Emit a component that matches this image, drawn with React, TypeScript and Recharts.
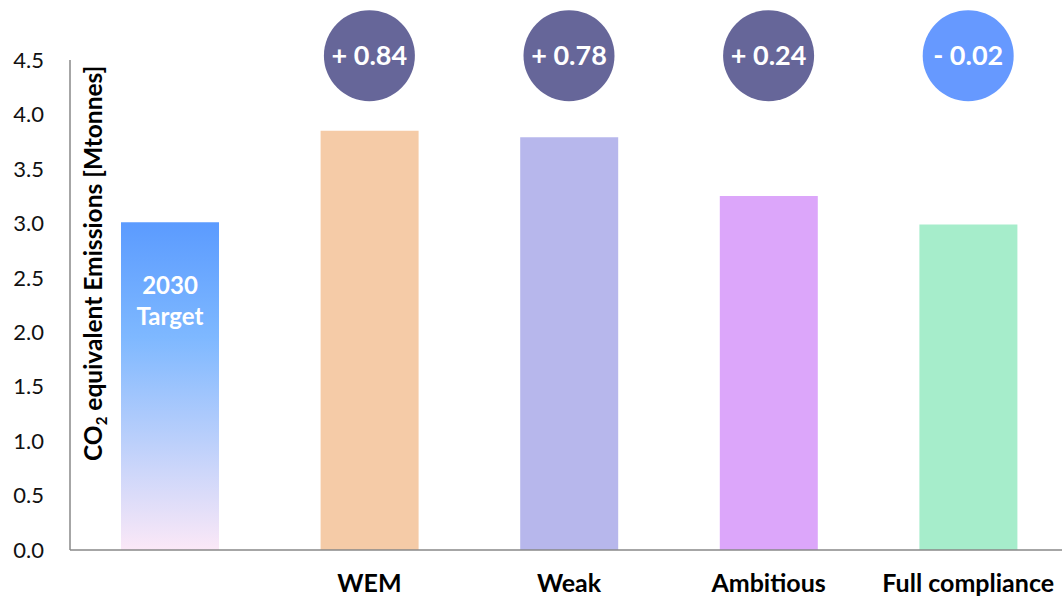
import React from 'react';
import {
  BarChart,
  Bar,
  Cell,
  XAxis,
  YAxis,
  ReferenceDot,
  Label,
  LabelList,
} from 'recharts';

// Scenarios and emissions (Mt CO2-eq)
const scenarios = ['2030 Target', 'WEM', 'Weak', 'Ambitious', 'Full compliance'];
const emissions = [3.01, 3.85, 3.79, 3.25, 2.99];
const axisLabels = ['', 'WEM', 'Weak', 'Ambitious', 'Full compliance'];
const yTicks = [0, 0.5, 1, 1.5, 2, 2.5, 3, 3.5, 4, 4.5];

const barColors = ['url(#targetFill)', '#F5CBA7', '#B7B7EC', '#DCA6FA', '#A6EDCB'];
const FONT = 'Lato, "Noto Sans", sans-serif';

const data = scenarios.map((name, i) => ({
  name,
  axis: axisLabels[i],
  value: emissions[i],
}));

const target = emissions[0];
// gap between each scenario and the target
const gaps = data.slice(1).map((d) => ({
  axis: d.axis,
  diff: Math.round((d.value - target) * 100) / 100,
}));

const fmtGap = (v: number) => `${v >= 0 ? '+' : '-'} ${Math.abs(v).toFixed(2)}`;

const YTitle = (props: any) => {
  const { viewBox } = props;
  const x = viewBox.x + viewBox.width + 32;
  const y = viewBox.y + viewBox.height * 0.415;
  return (
    <text
      x={x}
      y={y}
      transform={`rotate(-90, ${x}, ${y})`}
      textAnchor="middle"
      fontFamily={FONT}
      fontWeight={700}
      fontSize={24.5}
      fill="#000"
    >
      CO<tspan fontSize={15} dy={5}>2</tspan>
      <tspan dy={-5}> equivalent Emissions [Mtonnes]</tspan>
    </text>
  );
};

const TargetText = (props: any) => {
  const { x, y, width, index } = props;
  if (index !== 0) return null;
  const cx = x + width / 2;
  return (
    <text textAnchor="middle" fontFamily={FONT} fontWeight={700} fontSize={24} fill="#fff">
      <tspan x={cx} y={y + 72}>2030</tspan>
      <tspan x={cx} y={y + 103}>Target</tspan>
    </text>
  );
};

export default function App() {
  return (
    <div style={{ position: 'absolute', left: 0, top: 0, width: 1062, height: 597, overflow: 'hidden' }}>
      <BarChart
        width={1068}
        height={597}
        data={data}
        margin={{ top: 60, right: 0, left: 0, bottom: 0 }}
        barSize={98}
      >
        <defs>
          <linearGradient id="targetFill" x1="0" y1="0" x2="0" y2="1">
            <stop offset="0%" stopColor="#5B9BFF" />
            <stop offset="35%" stopColor="#7EB8FF" />
            <stop offset="100%" stopColor="#FBE8F7" />
          </linearGradient>
        </defs>
        <XAxis
          dataKey="axis"
          height={47}
          tickLine={false}
          tickSize={0}
          tickMargin={24}
          axisLine={{ stroke: '#898989', strokeWidth: 1.5 }}
          tick={{ fontSize: 25, fontWeight: 700, fill: '#000', fontFamily: FONT }}
          interval={0}
        />
        <YAxis
          width={70}
          domain={[0, 4.5]}
          ticks={yTicks}
          tickFormatter={(v: number) => v.toFixed(1)}
          tickLine={false}
          tickSize={0}
          tickMargin={26}
          axisLine={{ stroke: '#898989', strokeWidth: 1.5 }}
          tick={{ fontSize: 22, fill: '#111', fontFamily: FONT }}
        >
          <Label content={<YTitle />} />
        </YAxis>
        <Bar dataKey="value" isAnimationActive={false}>
          {data.map((d, i) => (
            <Cell key={d.name} fill={barColors[i]} />
          ))}
          <LabelList dataKey="value" content={<TargetText />} />
        </Bar>
        {gaps.map((g) => (
          <ReferenceDot
            key={g.axis}
            x={g.axis}
            y={4.54}
            r={45.5}
            ifOverflow="visible"
            fill={g.diff >= 0 ? '#666699' : '#6699FF'}
            stroke="none"
            label={{
              value: fmtGap(g.diff),
              position: 'center',
              fill: '#fff',
              fontSize: 27,
              fontWeight: 700,
              fontFamily: FONT,
            }}
          />
        ))}
      </BarChart>
    </div>
  );
}
